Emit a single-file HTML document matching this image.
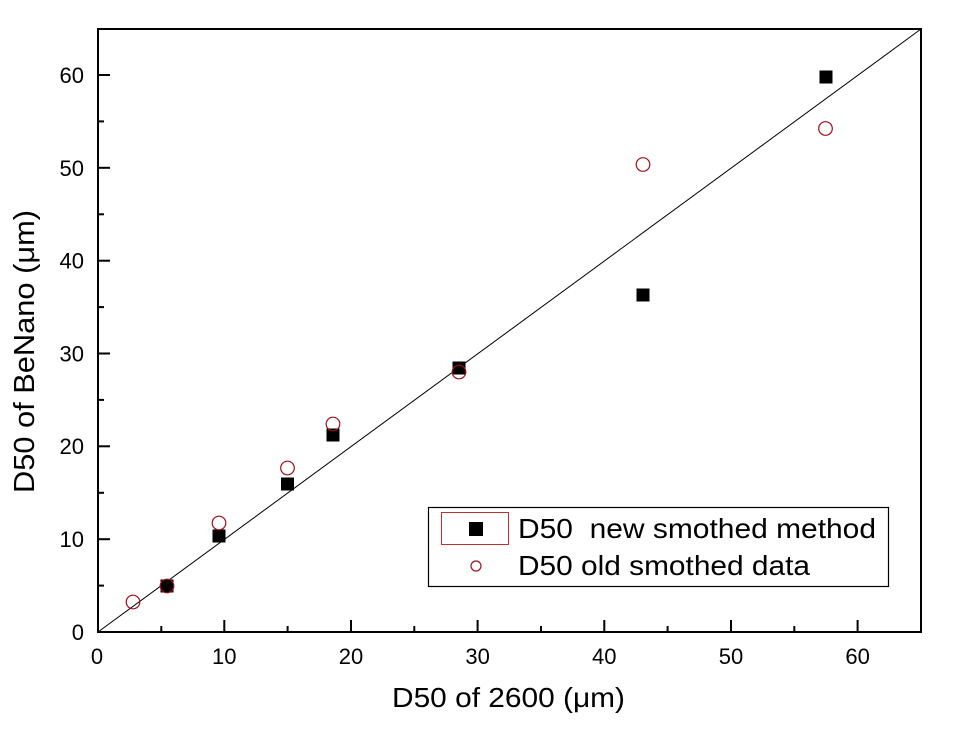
<!DOCTYPE html>
<html><head><meta charset="utf-8"><style>
html,body{margin:0;padding:0;background:#fff;}
svg{display:block;}
text{font-family:"Liberation Sans",Arial,sans-serif;fill:#000;}
</style></head><body>
<svg width="954" height="732" viewBox="0 0 954 732" xmlns="http://www.w3.org/2000/svg">
<rect width="954" height="732" fill="#fff"/>
<!-- diagonal line -->
<line x1="98" y1="632" x2="921" y2="29" stroke="#000" stroke-width="1"/>
<!-- ticks x -->
<g stroke="#000" stroke-width="2">
<line x1="98" y1="632" x2="98" y2="620"/>
<line x1="161.3" y1="632" x2="161.3" y2="626"/>
<line x1="224.3" y1="632" x2="224.3" y2="620"/>
<line x1="287.6" y1="632" x2="287.6" y2="626"/>
<line x1="351" y1="632" x2="351" y2="620"/>
<line x1="414.3" y1="632" x2="414.3" y2="626"/>
<line x1="477.6" y1="632" x2="477.6" y2="620"/>
<line x1="541" y1="632" x2="541" y2="626"/>
<line x1="604.3" y1="632" x2="604.3" y2="620"/>
<line x1="667.6" y1="632" x2="667.6" y2="626"/>
<line x1="731" y1="632" x2="731" y2="620"/>
<line x1="794.3" y1="632" x2="794.3" y2="626"/>
<line x1="857.6" y1="632" x2="857.6" y2="620"/>
<!-- ticks y -->
<line x1="98" y1="585.6" x2="104" y2="585.6"/>
<line x1="98" y1="539.2" x2="110" y2="539.2"/>
<line x1="98" y1="492.8" x2="104" y2="492.8"/>
<line x1="98" y1="446.3" x2="110" y2="446.3"/>
<line x1="98" y1="399.9" x2="104" y2="399.9"/>
<line x1="98" y1="353.5" x2="110" y2="353.5"/>
<line x1="98" y1="307.1" x2="104" y2="307.1"/>
<line x1="98" y1="260.7" x2="110" y2="260.7"/>
<line x1="98" y1="214.3" x2="104" y2="214.3"/>
<line x1="98" y1="167.8" x2="110" y2="167.8"/>
<line x1="98" y1="121.4" x2="104" y2="121.4"/>
<line x1="98" y1="75" x2="110" y2="75"/>
</g>
<!-- frame -->
<rect x="98" y="29" width="823" height="603" fill="none" stroke="#000" stroke-width="2"/>
<!-- x tick labels -->
<g font-size="22" text-anchor="middle">
<text x="97" y="664">0</text>
<text x="224.3" y="664">10</text>
<text x="351" y="664">20</text>
<text x="477.6" y="664">30</text>
<text x="604.3" y="664">40</text>
<text x="731" y="664">50</text>
<text x="857.6" y="664">60</text>
</g>
<!-- y tick labels -->
<g font-size="22" text-anchor="end">
<text x="84" y="640">0</text>
<text x="84" y="547">10</text>
<text x="84" y="454">20</text>
<text x="84" y="361.5">30</text>
<text x="84" y="268.5">40</text>
<text x="84" y="176">50</text>
<text x="84" y="83">60</text>
</g>
<!-- axis titles -->
<text x="392" y="707" font-size="28" textLength="233" lengthAdjust="spacingAndGlyphs">D50 of 2600 (μm)</text>
<text transform="translate(34,493) rotate(-90)" font-size="29" textLength="283" lengthAdjust="spacingAndGlyphs">D50 of BeNano (μm)</text>
<!-- squares -->
<g fill="#000">
<rect x="160.5" y="579.5" width="13" height="13"/>
<rect x="212.5" y="529.5" width="13" height="13"/>
<rect x="281" y="477.5" width="13" height="13"/>
<rect x="326.5" y="428.5" width="13" height="13"/>
<rect x="452.5" y="361.5" width="13" height="13"/>
<rect x="636.5" y="288.5" width="13" height="13"/>
<rect x="819.5" y="70.5" width="13" height="13"/>
</g>
<!-- circles -->
<g fill="none" stroke="#a0101a" stroke-width="1.2">
<circle cx="133" cy="602" r="6.8"/>
<circle cx="167" cy="586" r="6.8"/>
<circle cx="219" cy="523" r="6.8"/>
<circle cx="287.5" cy="468" r="6.8"/>
<circle cx="333" cy="424" r="6.8"/>
<circle cx="459" cy="372" r="6.8"/>
<circle cx="643" cy="164.5" r="6.8"/>
<circle cx="825.5" cy="128.5" r="6.8"/>
</g>
<!-- legend -->
<rect x="428.5" y="507.5" width="460" height="79" fill="#fff" stroke="#000" stroke-width="1.2"/>
<rect x="441.5" y="512.5" width="67" height="32" fill="none" stroke="#c03030" stroke-width="1"/>
<rect x="469" y="522" width="14" height="14" fill="#000"/>
<circle cx="476" cy="566" r="5" fill="none" stroke="#a0101a" stroke-width="1.2"/>
<text x="518" y="538" font-size="28" textLength="358" lengthAdjust="spacingAndGlyphs" xml:space="preserve">D50  new smothed method</text>
<text x="518" y="575" font-size="28" textLength="292" lengthAdjust="spacingAndGlyphs">D50 old smothed data</text>
</svg>
</body></html>
